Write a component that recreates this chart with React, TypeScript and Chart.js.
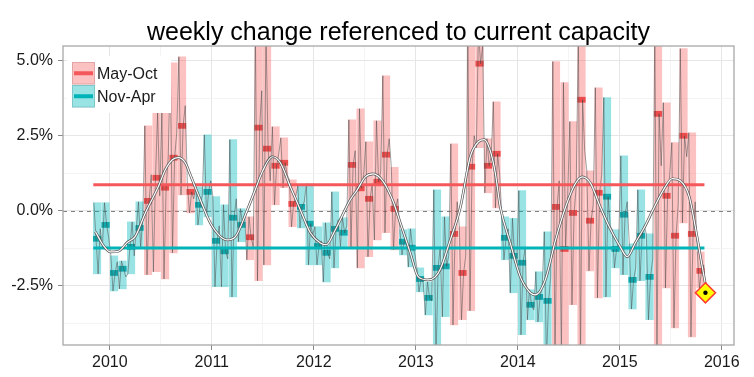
import React, { useEffect, useRef } from "react";
import { Chart, registerables } from "chart.js";

Chart.register(...registerables);

const FONT = "'Liberation Sans', Arial, Helvetica, sans-serif";
const TITLE = "weekly change referenced to current capacity";
const LEGEND_LABELS = ["May-Oct", "Nov-Apr"];

// first month of the series: November 2009
const START_YEAR = 2009;
const START_MONTH = 10; // 0-based

// weekly changes (%), grouped by month (4 readings per month)
const weekly: number[][] = [
  [0.27, -0.93, -2.1, -0.6], [-1.2, 0.27, -0.47, -0.9],
  [-1.5, -2.67, -2.07, -1.7], [-2.6, -1.67, -1.93, -2.2], [-2.1, -1.2, -0.37, -1.5], [-0.57, 0.3, -1.2, -0.3],
  [2.83, -2.13, 0.33, 1.2], [-2.03, 1.1, 3.27, 0.5], [3.27, -2.27, 0.77, 1.8], [4.93, -1.4, 1.77, 2.6],
  [5.13, 0.53, 2.83, 3.5], [0.9, -0.07, 0.63, 0.4], [0.8, -0.47, 0.2, 0.5], [2.53, -0.2, 0.63, 1.0],
  [0.47, -2.53, -1.0, -0.5], [-2.53, 0.2, -1.35, -1.6], [2.37, -2.87, -0.23, 0.4], [-1.03, 0.07, -0.47, -0.2],
  [-1.63, -0.2, -0.88, -1.2], [6.0, -2.33, 2.77, 4.0], [-1.8, 6.0, 2.07, 1.0], [2.8, 0.2, 1.5, 1.9],
  [2.43, 0.77, 1.6, 1.2], [1.03, -0.53, 0.23, 0.5], [0.83, -0.57, 0.13, 0.3], [0.9, -1.8, -0.43, -0.8],
  [-0.53, -1.8, -1.17, -1.0], [-2.37, -0.4, -1.4, -1.6], [0.63, -1.9, -0.6, -0.3], [-1.2, -0.23, -0.73, -0.5],
  [3.03, -1.2, 1.53, 2.0], [-1.9, 3.4, 0.75, 1.2], [2.3, -1.53, 0.4, 0.9], [-0.97, 3.0, 0.97, 1.3],
  [4.5, -0.73, 1.87, 2.4], [1.45, -1.3, 0.07, 0.4], [-0.63, -1.47, -1.03, -0.9], [-1.87, -0.6, -1.23, -1.4],
  [-1.9, -2.7, -2.27, -2.4], [-3.47, -2.37, -2.9, -3.0], [0.7, -5.0, -1.9, -1.2], [-3.53, -0.2, -1.85, -1.5],
  [2.23, -3.8, -0.77, 0.3], [-0.53, -3.63, -2.07, -1.5], [6.0, -3.33, 1.47, 2.5], [2.1, 6.0, 4.9, 5.5],
  [0.6, 2.4, 1.5, 1.8], [3.63, 0.1, 1.9, 1.2], [-0.2, -1.63, -0.9, -0.6], [-2.73, -0.25, -1.5, -1.9],
  [0.67, -4.13, -1.73, -1.2], [-3.63, -2.63, -3.13, -3.3], [-2.03, -3.7, -2.87, -2.5], [-0.7, -5.0, -3.0, -2.2],
  [4.97, -5.0, 0.13, 1.0], [-5.0, 4.27, -1.27, 0.5], [2.97, -3.13, -0.07, 0.8], [6.0, -5.0, 3.7, 2.0],
  [1.33, -2.0, -0.33, 0.2], [4.1, -2.9, 0.6, 1.2], [3.77, -2.87, 0.47, -0.5], [-0.63, -1.9, -1.27, -1.0],
  [1.83, -2.13, -0.13, 0.3], [-1.1, -3.27, -2.3, -1.9], [0.7, -2.33, -0.83, -0.5], [-0.77, -3.63, -2.2, -1.6],
  [6.0, -5.0, 3.23, 1.5], [3.6, -2.57, 0.5, 1.2], [2.27, -3.9, -0.83, 0.2], [5.4, -0.4, 2.5, 1.8],
  [2.6, -4.2, -0.77, 0.3], [-1.37, -2.57, -2.0, -1.8],
];

// monthly typical value (marker)
const monthMid: number[] = [
  -0.93, -0.47,
  -2.07, -1.93, -1.2, -0.57, 0.33, 1.1, 0.77, 1.77, 2.83, 0.63, 0.2, 0.63,
  -1.0, -1.35, -0.23, -0.47, -0.88, 2.77, 2.07, 1.5, 1.6, 0.23, 0.13, -0.43,
  -1.17, -1.4, -0.6, -0.73, 1.53, 0.75, 0.4, 0.97, 1.87, 0.07, -1.03, -1.23,
  -2.27, -2.9, -1.9, -1.85, -0.77, -2.07, 1.47, 4.9, 1.5, 1.9, -0.9, -1.5,
  -1.73, -3.13, -2.87, -3.0, 0.13, -1.27, -0.07, 3.7, -0.33, 0.6, 0.47, -1.27,
  -0.13, -2.3, -0.83, -2.2, 3.23, 0.5, -0.83, 2.5, -0.77, -2.0,
];

const latest = { x: 2015.84, y: -2.73 };

const meanMayOct = 0.87;
const meanNovApr = -1.24;
const meanSpan = [2009.838, 2015.83];

const smoothX: number[] = [
  2009.858, 2009.936, 2010.005, 2010.083, 2010.172, 2010.25, 2010.348, 2010.475, 2010.544, 2010.613,
  2010.672, 2010.74, 2010.789, 2010.887, 2010.985, 2011.083, 2011.152, 2011.23, 2011.348, 2011.426,
  2011.495, 2011.593, 2011.672, 2011.77, 2011.868, 2011.966, 2012.064, 2012.123, 2012.211, 2012.358,
  2012.426, 2012.505, 2012.583, 2012.681, 2012.779, 2012.848, 2012.946, 2013.025, 2013.123, 2013.191,
  2013.24, 2013.338, 2013.436, 2013.534, 2013.613, 2013.672, 2013.73, 2013.779, 2013.828, 2013.926,
  2014.025, 2014.123, 2014.172, 2014.27, 2014.368, 2014.466, 2014.564, 2014.632, 2014.711, 2014.809,
  2014.907, 2015.005, 2015.074, 2015.152, 2015.25, 2015.328, 2015.446, 2015.515, 2015.593, 2015.681,
  2015.74, 2015.809, 2015.848,
];
const smoothY: number[] = [
  -0.69, -1.15, -1.37, -1.35, -1.05, -0.85, -0.07, 0.8, 1.37, 1.7,
  1.77, 1.6, 1.2, 0.37, -0.4, -0.85, -0.97, -0.87, 0.03, 0.7,
  1.3, 1.8, 1.6, 0.8, 0.03, -0.73, -1.07, -1.13, -0.63, 0.37,
  0.7, 1.13, 1.23, 0.97, 0.3, -0.4, -1.4, -2.2, -2.3, -2.2,
  -1.95, -0.97, 0.1, 1.8, 2.3, 2.37, 2.0, 1.27, 0.13, -1.07,
  -2.2, -2.73, -2.8, -2.3, -1.0, 0.1, 0.9, 1.13, 0.93, 0.13,
  -0.6, -1.2, -1.53, -1.07, -0.5, 0.05, 0.8, 1.07, 1.0, 0.47,
  -0.53, -1.87, -2.6,
];

const xGrid = [2010, 2010.5, 2011, 2011.5, 2012, 2012.5, 2013, 2013.5, 2014, 2014.5, 2015, 2015.5, 2016];
const yGrid = [-3.75, -2.5, -1.25, 0, 1.25, 2.5, 3.75, 5];
const X_MIN = 2009.541;
const X_MAX = 2016.12;
const Y_MIN = -4.47;
const Y_MAX = 5.49;

const RED_LINE = "#f4585a";
const RED_MARK = "#ec4c4c";
const RED_PALE = "rgba(248,100,100,0.4)";
const CYAN_LINE = "#00b4b8";
const CYAN_MARK = "#10a8ac";
const CYAN_PALE = "rgba(0,185,190,0.4)";

const isMajorX = (v: number) => Math.abs(v - Math.round(v)) < 1e-9;
const isMajorY = (v: number) => Math.abs(v / 2.5 - Math.round(v / 2.5)) < 1e-9;

function monthStart(i: number) {
  return START_YEAR + (START_MONTH + i) / 12;
}
function isMayOct(i: number) {
  const m = (START_MONTH + i) % 12;
  return m >= 4 && m <= 9;
}

const overlayPlugin = {
  id: "overlay",
  beforeDatasetsDraw(chart: any) {
    const { ctx, chartArea: a, scales } = chart;
    const y0 = scales.y.getPixelForValue(0);
    ctx.save();
    ctx.strokeStyle = "#808080";
    ctx.lineWidth = 1;
    ctx.setLineDash([4, 4]);
    ctx.beginPath();
    ctx.moveTo(a.left, Math.round(y0) + 0.5);
    ctx.lineTo(a.right, Math.round(y0) + 0.5);
    ctx.stroke();
    ctx.restore();
  },
  afterDraw(chart: any) {
    const { ctx, chartArea: a } = chart;
    ctx.save();
    // panel border
    ctx.strokeStyle = "#a8a8a8";
    ctx.lineWidth = 1.3;
    ctx.strokeRect(a.left, a.top, a.right - a.left, a.bottom - a.top);
    // title
    ctx.fillStyle = "#000";
    ctx.font = `25px ${FONT}`;
    ctx.textAlign = "center";
    ctx.textBaseline = "alphabetic";
    ctx.fillText(TITLE, (a.left + a.right) / 2, 40);
    // legend
    ctx.fillStyle = "#fff";
    ctx.fillRect(a.left + 4, a.top + 10, 104, 57);
    const keys = [
      { y: 62, pale: RED_PALE, line: RED_LINE, label: LEGEND_LABELS[0] },
      { y: 85, pale: CYAN_PALE, line: CYAN_LINE, label: LEGEND_LABELS[1] },
    ];
    const kx = 72;
    const kw = 23;
    const kh = 22.5;
    for (const k of keys) {
      ctx.fillStyle = "#fff";
      ctx.fillRect(kx, k.y, kw, kh);
      ctx.strokeStyle = "#d0d0d0";
      ctx.lineWidth = 1;
      ctx.strokeRect(kx + 0.5, k.y + 0.5, kw - 1, kh - 1);
      ctx.fillStyle = k.pale;
      ctx.fillRect(kx, k.y, kw, kh);
      ctx.strokeStyle = k.line;
      ctx.lineWidth = 4;
      ctx.beginPath();
      ctx.moveTo(kx + 2, k.y + kh / 2);
      ctx.lineTo(kx + kw - 2, k.y + kh / 2);
      ctx.stroke();
      ctx.fillStyle = "#1a1a1a";
      ctx.font = `16px ${FONT}`;
      ctx.textAlign = "left";
      ctx.textBaseline = "alphabetic";
      ctx.fillText(k.label, kx + 25, k.y + kh / 2 + 6);
    }
    ctx.restore();
  },
};

function buildConfig(): any {
  const redBoxes: any[] = [];
  const cyanBoxes: any[] = [];
  const redMarks: any[] = [];
  const cyanMarks: any[] = [];
  const weeklyPts: any[] = [];
  weekly.forEach((vals, i) => {
    const s = monthStart(i);
    const c = s + 0.5 / 12;
    const box = { x: c, y: [Math.min(...vals), Math.max(...vals)] };
    const mark = { x: c, y: [monthMid[i] - 0.085, monthMid[i] + 0.085] };
    if (isMayOct(i)) {
      redBoxes.push(box);
      redMarks.push(mark);
    } else {
      cyanBoxes.push(box);
      cyanMarks.push(mark);
    }
    vals.forEach((v, k) => weeklyPts.push({ x: s + (k + 0.5) / 48, y: v }));
  });
  weeklyPts.push({ x: latest.x, y: latest.y });
  const smooth = smoothX.map((x, i) => ({ x, y: smoothY[i] }));

  const barCommon = { type: "bar", grouped: false, barThickness: 7.5, borderWidth: 0 };
  return {
    type: "bar",
    data: {
      datasets: [
        { ...barCommon, data: redBoxes, backgroundColor: RED_PALE, order: 20 },
        { ...barCommon, data: cyanBoxes, backgroundColor: CYAN_PALE, order: 20 },
        { ...barCommon, data: redMarks, backgroundColor: RED_MARK, order: 19 },
        { ...barCommon, data: cyanMarks, backgroundColor: CYAN_MARK, order: 19 },
        {
          type: "line", data: weeklyPts, borderColor: "rgba(70,70,70,0.7)", borderWidth: 0.7,
          pointRadius: 0, tension: 0, order: 18,
        },
        {
          type: "line", data: [{ x: meanSpan[0], y: meanMayOct }, { x: meanSpan[1], y: meanMayOct }],
          borderColor: RED_LINE, borderWidth: 3, pointRadius: 0, order: 17,
        },
        {
          type: "line", data: [{ x: meanSpan[0], y: meanNovApr }, { x: meanSpan[1], y: meanNovApr }],
          borderColor: CYAN_LINE, borderWidth: 3, pointRadius: 0, order: 17,
        },
        {
          type: "line", data: smooth, borderColor: "#555555", borderWidth: 2.6, pointRadius: 0,
          cubicInterpolationMode: "monotone", order: 16,
        },
        {
          type: "line", data: smooth, borderColor: "#ffffff", borderWidth: 1.2, pointRadius: 0,
          cubicInterpolationMode: "monotone", order: 15,
        },
        {
          type: "line", data: [latest], showLine: false, pointStyle: "rectRot", pointRadius: 10,
          backgroundColor: "#ffff00", borderColor: "#ff3b30", borderWidth: 1.6, order: 14,
        },
        {
          type: "line", data: [latest], showLine: false, pointStyle: "circle", pointRadius: 2.2,
          backgroundColor: "#000", borderColor: "#000", borderWidth: 0, order: 13,
        },
      ],
    },
    options: {
      animation: false,
      responsive: false,
      devicePixelRatio: 1,
      events: [],
      layout: { padding: { top: 46, right: 20, left: 0, bottom: 0 } },
      plugins: { legend: { display: false }, title: { display: false }, tooltip: { enabled: false } },
      scales: {
        x: {
          type: "linear",
          min: X_MIN,
          max: X_MAX,
          offset: false,
          afterBuildTicks: (s: any) => {
            s.ticks = xGrid.map((v) => ({ value: v }));
          },
          afterFit: (s: any) => {
            s.height = 32;
          },
          ticks: {
            autoSkip: false,
            maxRotation: 0,
            padding: 3,
            color: "#1a1a1a",
            font: { size: 16, family: FONT },
            callback: (v: number) => (isMajorX(v) ? String(Math.round(v)) : ""),
          },
          grid: {
            offset: false,
            drawTicks: true,
            tickLength: 5,
            lineWidth: 1,
            color: (c: any) => (c.tick && isMajorX(c.tick.value) ? "#e6e6e6" : "#f4f4f4"),
            tickColor: (c: any) => (c.tick && isMajorX(c.tick.value) ? "#8a8a8a" : "rgba(0,0,0,0)"),
          },
          border: { display: false },
        },
        y: {
          type: "linear",
          min: Y_MIN,
          max: Y_MAX,
          afterBuildTicks: (s: any) => {
            s.ticks = yGrid.map((v) => ({ value: v }));
          },
          afterFit: (s: any) => {
            s.width = 63;
          },
          ticks: {
            autoSkip: false,
            padding: 5,
            color: "#1a1a1a",
            font: { size: 16, family: FONT },
            callback: (v: number) => (isMajorY(v) ? v.toFixed(1) + "%" : ""),
          },
          grid: {
            drawTicks: true,
            tickLength: 5,
            lineWidth: 1,
            color: (c: any) => (c.tick && isMajorY(c.tick.value) ? "#e6e6e6" : "#f4f4f4"),
            tickColor: (c: any) => (c.tick && isMajorY(c.tick.value) ? "#8a8a8a" : "rgba(0,0,0,0)"),
          },
          border: { display: false },
        },
      },
    },
    plugins: [overlayPlugin],
  };
}

export default function App() {
  const ref = useRef<HTMLCanvasElement>(null);
  useEffect(() => {
    if (!ref.current) return;
    const chart = new Chart(ref.current, buildConfig());
    return () => chart.destroy();
  }, []);
  return (
    <div style={{ position: "fixed", left: 0, top: 0, width: 754, height: 377, background: "#fff" }}>
      <canvas ref={ref} width={754} height={377} style={{ width: 754, height: 377, display: "block" }} />
    </div>
  );
}
